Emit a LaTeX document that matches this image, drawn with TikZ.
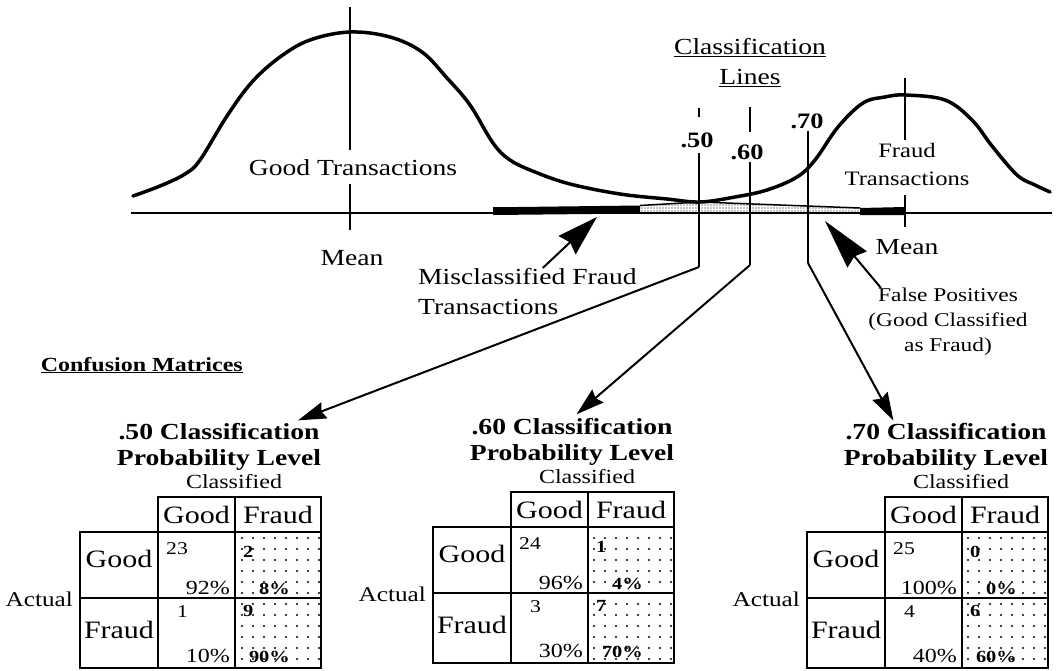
\documentclass[tikz,border=0pt]{standalone}
\usepackage{fontspec}
\setmainfont{Liberation Serif}[FakeStretch=1.2]
\usepackage{tikz}
\usetikzlibrary{arrows.meta}
\usetikzlibrary{calc}
\usetikzlibrary{patterns.meta}

\begin{document}
\begin{tikzpicture}[x=1pt,y=-1pt]

% Define styles
\tikzset{
    lbl/.style={inner sep=0pt, font=\fontsize{23}{30}\selectfont},
    smalllbl/.style={inner sep=0pt, font=\fontsize{19.5}{25}\selectfont},
    boldlbl/.style={inner sep=0pt, font=\fontsize{23}{26}\selectfont\bfseries},
    lvllbl/.style={inner sep=0pt, font=\fontsize{22}{22}\selectfont\bfseries},
    celllbl/.style={inner sep=0pt, font=\fontsize{25}{25}\selectfont},
    numlbl/.style={inner sep=0pt, font=\fontsize{18}{18}\selectfont},
    pctlbl/.style={inner sep=0pt, font=\fontsize{20}{20}\selectfont},
    bnumlbl/.style={inner sep=0pt, font=\fontsize{17}{17}\selectfont\bfseries},
    curve/.style={line width=3.5pt, line join=round, line cap=round},
    cline/.style={line width=2pt},
    grid/.style={line width=2.5pt},
    dotcell/.style={pattern={Dots[distance=11pt, radius=1.2pt]}},
    pointer/.style={line width=2pt, -{Stealth[length=28pt, width=17pt, inset=3pt]}},
    bigpointer/.style={line width=2pt, -{Stealth[length=#1, width=25pt, inset=4pt]}}
}

\fill[white] (0,0) rectangle (1058,670);
\useasboundingbox (0,0) rectangle (1058,670);

% axis
\draw[line width=1.5pt] (131,213) -- (1052,213);

% tails of the two curves along the axis
\fill[pattern={Dots[distance=3pt, radius=0.6pt]}] (640,206) -- (700,202.5) -- (860,208) -- (860,213) -- (640,213) -- cycle;
\fill (493,207) -- (517,207) -- (640,205.5) -- (640,213.5) -- (493,215) -- cycle;
\fill (860,208) -- (905,207) -- (905,215) -- (860,215) -- cycle;
\draw[line width=1.5pt] (640,205.5) -- (700,202) -- (860,208);

% good and fraud distributions
\draw[curve] plot[smooth, tension=0.6] coordinates {
    (133,196) (160,186) (185,174) (200,160) (227,116) (252,82) (280,57)
    (310,40) (350,32) (390,37) (422,52) (447,78) (470,105) (493,143)
    (510,160) (535,172) (570,184) (620,194) (667,199) (700,202)
    (735,197) (767,190) (797,177) (815,160) (838,127) (863,103)
    (885,97) (905,95) (945,100) (972,120) (992,146) (1017,175)
    (1035,185) (1050,192)};

% mean lines
\draw[cline] (350,7) -- (350,150);
\draw[cline] (350,184) -- (350,230);
\draw[cline] (905,78) -- (905,140);
\draw[cline] (905,195) -- (905,227);

\node[lbl] (good) at (353,168) {Good Transactions};
\node[lbl] (goodmean) at (352,258) {Mean};
\node[lbl, font=\fontsize{20.5}{28}\selectfont, align=center] (fraud) at (907,164) {Fraud\\Transactions};
\node[lbl] (fraudmean) at (907,247) {Mean};

% classification lines
\node[lbl, align=center] (cltitle) at (750,63) {\underline{Classification}\\\underline{Lines}};
\coordinate (c50top) at (699,153);
\coordinate (c50bot) at (699,267);
\coordinate (c60top) at (750,162);
\coordinate (c60bot) at (750,265);
\coordinate (c70top) at (808,131);
\coordinate (c70bot) at (808,263);
\draw[cline] (699,108) -- (699,117);
\draw[cline] (750,107) -- (750,132);
\draw[cline] (c50top) -- (c50bot);
\draw[cline] (c60top) -- (c60bot);
\draw[cline] (c70top) -- (c70bot);
\node[lvllbl] (l50) at (697,140) {.50};
\node[lvllbl] (l60) at (747,152) {.60};
\node[lvllbl] (l70) at (807,121) {.70};

% pointers to the tails
\coordinate (fraudtail) at (597,217);
\coordinate (goodtail) at (825,221);
\node[lbl, align=left, anchor=north west] (mis) at (418,268) {Misclassified Fraud\\Transactions};
\node[smalllbl, align=center, anchor=north] (fp) at (948,288) {False Positives\\(Good Classified\\as Fraud)};
\draw[bigpointer=41pt] ($(mis.north west)!0.57!(mis.north east)$) -- (fraudtail);
\draw[bigpointer=50pt] ($(fp.north west)!0.08!(fp.north east)$) -- (goodtail);

\node[inner sep=0pt, font=\fontsize{20}{20}\selectfont\bfseries, anchor=base east] (cmtitle) at (243,371) {\underline{Confusion Matrices}};

% confusion matrices
\foreach \ox/\oy/\lvl/\ga/\gap/\gb/\gbp/\fa/\fap/\fb/\fbp/\nm in
    {80/497/.50/23/92/2/8/1/10/9/90/50,
     433/492/.60/24/96/1/4/3/30/7/70/60,
     807/497/.70/25/100/0/0/4/40/6/60/70}
{
  \begin{scope}[shift={(\ox,\oy)}]
    \fill[dotcell] (155,35) rectangle (241,171);
    \draw[grid] (78,0) rectangle (241,35);
    \draw[grid] (0,35) rectangle (241,171);
    \draw[grid] (78,0) -- (78,171);
    \draw[grid] (155,0) -- (155,171);
    \draw[grid] (0,101) -- (241,101);
    \node[boldlbl, align=center] (t\nm) at (139,-50) {\lvl\ Classification\\Probability Level};
    \node[smalllbl, font=\fontsize{20}{20}\selectfont] (cls\nm) at (154,-15) {Classified};
    \node[lbl, font=\fontsize{21}{21}\selectfont, anchor=east] (act\nm) at (-7,102) {Actual};
    \node[celllbl] (hg\nm) at (116.5,17.5) {Good};
    \node[celllbl] (hf\nm) at (198,17.5) {Fraud};
    \node[celllbl] (rg\nm) at (39,62) {Good};
    \node[celllbl] (rf\nm) at (39,133) {Fraud};
    \node[numlbl, anchor=north east] at (108,45) {\ga};
    \node[pctlbl, anchor=base east] at (150,97) {\gap\%};
    \node[bnumlbl, anchor=north west] at (163,49) {\gb};
    \node[bnumlbl, anchor=base east] at (210,97) {\gbp\%};
    \node[numlbl, anchor=north east] at (108,108) {\fa};
    \node[pctlbl, anchor=base east] at (150,165) {\fap\%};
    \node[bnumlbl, anchor=north west] at (163,108) {\fb};
    \node[bnumlbl, anchor=base east] at (210,165) {\fbp\%};
  \end{scope}
}

% pointers to the matrices
\draw[pointer, shorten >=8pt] (c50bot) -- ($(t50.north)!0.7!(t50.north east)$);
\draw[pointer, shorten >=6pt] (c60bot) -- (t60.north);
\draw[pointer, shorten >=3pt] (c70bot) -- ($(t70.north)!0.5!(t70.north west)$);

\end{tikzpicture}
\end{document}
